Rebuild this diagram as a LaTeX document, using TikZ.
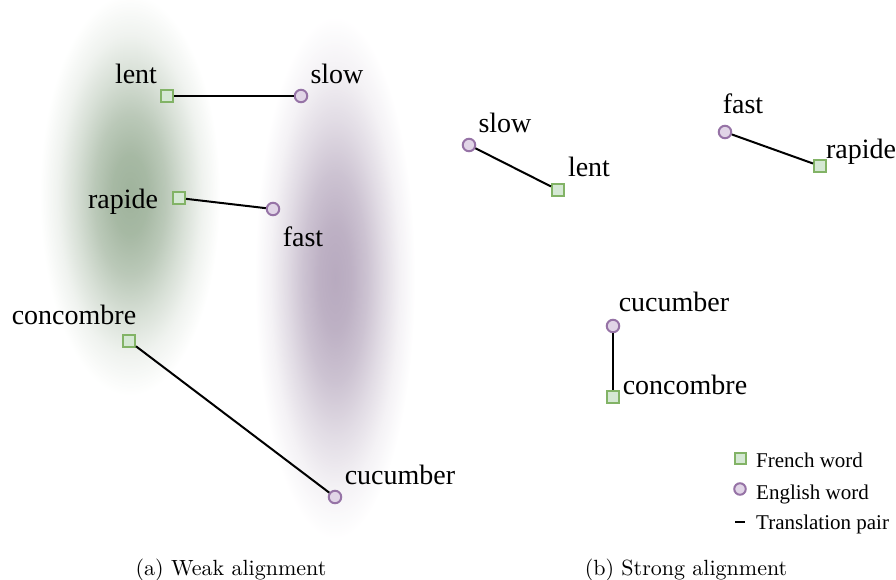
\documentclass[tikz,border=0pt]{standalone}
\usepackage{fontspec}
\newfontfamily\wordfont{Liberation Serif}
\usetikzlibrary{fadings}
\definecolor{frstroke}{HTML}{82B366}
\definecolor{frfill}{HTML}{D5E8D4}
\definecolor{enstroke}{HTML}{9673A6}
\definecolor{enfill}{HTML}{E1D5E7}
\definecolor{blobgreen}{RGB}{100,132,95}
\definecolor{blobpurple}{RGB}{140,118,152}
\pgfdeclareradialshading{blobshade}{\pgfpoint{0bp}{0bp}}{%
  color(0bp)=(white!62!black);
  color(5bp)=(white!57!black);
  color(10bp)=(white!44!black);
  color(15bp)=(white!26!black);
  color(20bp)=(white!10!black);
  color(25bp)=(black);
  color(50bp)=(black)}
\pgfdeclarefading{blobfade}{\pgfuseshading{blobshade}}
\begin{document}
\begin{tikzpicture}[x=1pt,y=-1pt,
  frword/.style={rectangle,draw=frstroke,fill=frfill,line width=2pt,minimum size=12pt,inner sep=0pt},
  enword/.style={circle,draw=enstroke,fill=enfill,line width=2pt,minimum size=12.5pt,inner sep=0pt},
  wlabel/.style={font=\wordfont\fontsize{28}{30}\selectfont,anchor=base,inner sep=0pt},
  leglabel/.style={font=\wordfont\fontsize{21}{24}\selectfont,anchor=base west,inner sep=0pt},
  caplabel/.style={anchor=base,inner sep=0pt},
  pair/.style={line width=2pt,black}]
\useasboundingbox (0,0) rectangle (896,579);
% blobs
\fill[blobgreen,path fading=blobfade] (130,195) ellipse (90 and 200);
\fill[blobpurple,path fading=blobfade] (335,278) ellipse (80 and 260);
% (a) weak alignment
\node[frword] (lentA) at (167,96) {};
\node[enword] (slowA) at (301,96) {};
\node[frword] (rapideA) at (179,198) {};
\node[enword] (fastA) at (273,209) {};
\node[frword] (concombreA) at (129,341) {};
\node[enword] (cucumberA) at (335,497) {};
\node[wlabel] (lentAl) at (136,83) {lent};
\node[wlabel] (slowAl) at (337,83) {slow};
\node[wlabel] (rapideAl) at (123,208) {rapide};
\node[wlabel] (fastAl) at (303,246) {fast};
\node[wlabel] (concombreAl) at (74,324) {concombre};
\node[wlabel] (cucumberAl) at (400,484) {cucumber};
\draw[pair] (lentA) -- (slowA);
\draw[pair] (rapideA) -- (fastA);
\draw[pair] (concombreA) -- (cucumberA);
% (b) strong alignment
\node[enword] (slowB) at (469,145) {};
\node[frword] (lentB) at (558,190) {};
\node[enword] (fastB) at (725,132) {};
\node[frword] (rapideB) at (820,166) {};
\node[enword] (cucumberB) at (613,326) {};
\node[frword] (concombreB) at (613,397) {};
\node[wlabel] (slowBl) at (505,132) {slow};
\node[wlabel] (lentBl) at (589,176) {lent};
\node[wlabel] (fastBl) at (743,113) {fast};
\node[wlabel] (rapideBl) at (861,158) {rapide};
\node[wlabel] (cucumberBl) at (674,311) {cucumber};
\node[wlabel] (concombreBl) at (685,394) {concombre};
\draw[pair] (slowB) -- (lentB);
\draw[pair] (fastB) -- (rapideB);
\draw[pair] (cucumberB) -- (concombreB);
% legend
\node[frword,minimum size=11pt] (legfr) at (740,458) {};
\node[enword,minimum size=11.5pt] (legen) at (740,489) {};
\coordinate (legpa) at (735,522);
\coordinate (legpb) at (745,522);
\draw[line width=2.5pt] (legpa) -- (legpb);
\node[leglabel] (legfrl) at (756,467) {French word};
\node[leglabel] (legenl) at (756,499) {English word};
\node[leglabel] (legpal) at (756,529) {Translation pair};
% captions
\node[caplabel] (capa) at (231,575) {\scalebox{2.2}{\fontsize{10}{12}\selectfont(a) Weak alignment}};
\node[caplabel] (capb) at (686,575) {\scalebox{2.2}{\fontsize{10}{12}\selectfont(b) Strong alignment}};
\end{tikzpicture}
\end{document}
